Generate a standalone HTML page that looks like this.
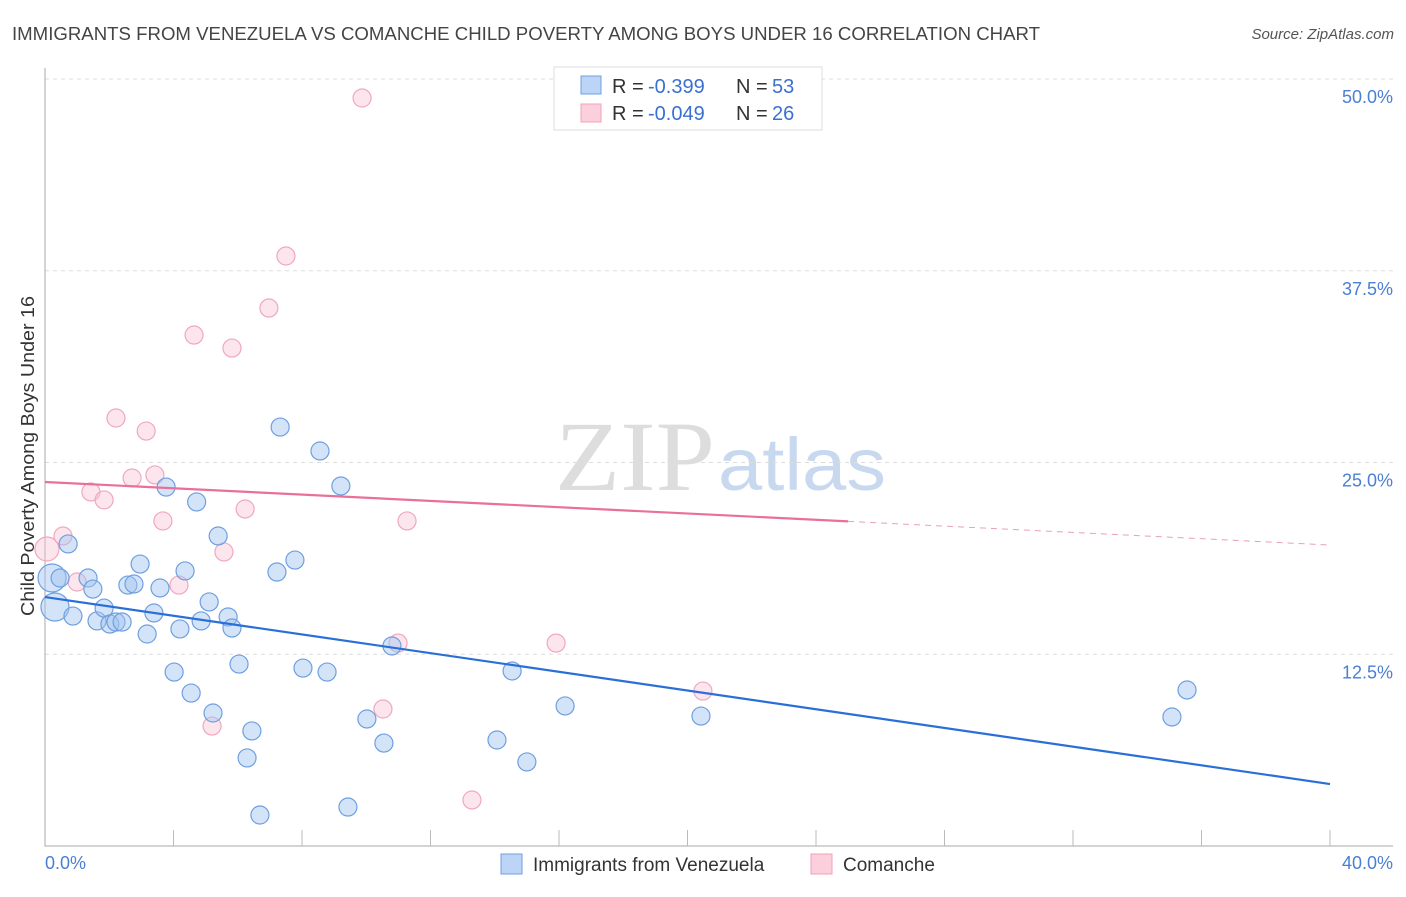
<!DOCTYPE html>
<html><head><meta charset="utf-8"><style>
body{margin:0;background:#fff;font-family:"Liberation Sans",sans-serif}
</style></head><body>
<svg width="1406" height="892" xmlns="http://www.w3.org/2000/svg" font-family="Liberation Sans, sans-serif">
<text x="12" y="40" font-size="18" fill="#444" textLength="1028" lengthAdjust="spacingAndGlyphs">IMMIGRANTS FROM VENEZUELA VS COMANCHE CHILD POVERTY AMONG BOYS UNDER 16 CORRELATION CHART</text>
<text x="1394" y="39" font-size="15" fill="#555" font-style="italic" text-anchor="end">Source: ZipAtlas.com</text>
<text x="555" y="490" font-size="100" fill="#ddd" textLength="160" lengthAdjust="spacingAndGlyphs" font-family="Liberation Serif, serif">ZIP</text>
<text x="718" y="490" font-size="74" fill="#c8d9ef" textLength="168" lengthAdjust="spacingAndGlyphs">atlas</text>
<g id="grid"></g><g id="marks"></g>
<text transform="translate(34,456) rotate(-90)" font-size="18" fill="#333" text-anchor="middle" textLength="320" lengthAdjust="spacingAndGlyphs">Child Poverty Among Boys Under 16</text>
<text x="45" y="869" font-size="18" fill="#4a7fd4">0.0%</text>
<text x="1393" y="869" font-size="18" fill="#4a7fd4" text-anchor="end">40.0%</text>
<g>
<rect x="554" y="67" width="268" height="63" fill="#fff" stroke="#ddd"/>
<rect x="581" y="76" width="20" height="18" fill="#bcd4f5" stroke="#6f9fe0"/>
<rect x="581" y="104" width="20" height="18" fill="#fbd0dc" stroke="#f0a0b8"/>
<text x="612" y="93" font-size="20" fill="#333">R =</text>
<text x="648" y="93" font-size="20" fill="#3a70d0">-0.399</text>
<text x="736" y="93" font-size="20" fill="#333">N =</text>
<text x="772" y="93" font-size="20" fill="#3a70d0">53</text>
<text x="612" y="120" font-size="20" fill="#333">R =</text>
<text x="648" y="120" font-size="20" fill="#3a70d0">-0.049</text>
<text x="736" y="120" font-size="20" fill="#333">N =</text>
<text x="772" y="120" font-size="20" fill="#3a70d0">26</text>
</g>
<g>
<rect x="501" y="854" width="21" height="20" fill="#bcd4f5" stroke="#6f9fe0"/>
<text x="533" y="871" font-size="19" fill="#333">Immigrants from Venezuela</text>
<rect x="811" y="854" width="21" height="20" fill="#fbd0dc" stroke="#f0a0b8"/>
<text x="843" y="871" font-size="19" fill="#333">Comanche</text>
</g>
</svg>
<script>
const blueX=[0.31,0.22,0.47,0.72,0.87,1.34,1.49,1.62,1.84,2.02,2.21,2.40,2.58,2.77,2.96,3.18,3.39,3.58,3.77,4.02,4.20,4.36,4.55,4.72,4.86,5.11,5.23,5.39,5.70,5.82,6.04,6.29,6.44,6.69,7.22,7.32,7.78,8.03,8.56,8.78,9.21,9.43,10.02,10.55,10.80,14.07,14.54,15.00,16.19,20.42,35.08,35.55];
const blueY=[15.58,17.47,17.47,19.69,14.99,17.47,16.75,14.67,15.51,14.47,14.60,14.60,17.01,17.08,18.38,13.82,15.19,16.82,23.40,11.34,14.15,17.93,9.97,22.43,14.67,15.91,8.67,20.21,14.93,14.21,11.86,5.74,7.50,2.02,17.86,27.31,18.64,11.60,25.75,11.34,23.47,2.54,8.28,6.71,13.04,6.91,11.41,5.48,9.13,8.47,8.41,10.17];
const pinkX=[0.06,0.56,1.0,1.43,1.84,2.21,2.71,3.15,3.42,3.67,4.17,4.64,5.20,5.57,5.82,6.23,6.97,7.50,9.87,10.52,10.99,11.27,15.91,13.29,20.48];
const pinkY=[19.36,20.21,17.21,23.08,22.56,27.90,23.99,27.05,24.19,21.19,17.01,33.31,7.82,19.17,32.46,21.97,35.07,38.46,48.76,8.93,13.23,21.19,13.23,3.00,10.10];
const blueTrend=[16.23,4.04];
const pinkTrend=[23.73,19.62];
const yTicks=[12.5,25,37.5,50];
const NS='http://www.w3.org/2000/svg';
const sx=v=>45+v/40*1285, sy=v=>846-v*15.34;
function mk(t,a,p){const e=document.createElementNS(NS,t);for(const k in a)e.setAttribute(k,a[k]);p.appendChild(e);return e;}
const g=document.getElementById('grid'),m=document.getElementById('marks');
yTicks.forEach(t=>{
 const l=mk('line',{x1:45,x2:1393,y1:sy(t),y2:sy(t),stroke:'#ddd','stroke-dasharray':'4,4'},g);
 
 
 const tx=mk('text',{x:1393,y:sy(t)+24,'font-size':18,fill:'#4a7fd4','text-anchor':'end'},g);
 tx.textContent=t.toFixed(1)+'%';
 
 
});
const ax=mk('path',{d:'M45,68V846H1393',stroke:'#aaa',fill:'none'},g);


for(let i=1;i<=10;i++){const t=mk('line',{x1:sx(i*4),x2:sx(i*4),y1:830,y2:846,stroke:'#bbb'},g);
 
 }
pinkX.forEach((x,i)=>{const c=mk('circle',{cx:sx(x),cy:sy(pinkY[i]),r:i==0?12:9,fill:'rgba(248,190,210,0.4)',stroke:'#f0a8be','stroke-width':1.2},m);
 
 });
blueX.forEach((x,i)=>{const c=mk('circle',{cx:sx(x),cy:sy(blueY[i]),r:i<2?14:9,fill:'rgba(160,195,240,0.45)',stroke:'#6f9fe0','stroke-width':1.2},m);
 
 });
const pAt=x=>pinkTrend[0]+(pinkTrend[1]-pinkTrend[0])*x/40;
let l=mk('line',{x1:sx(0),y1:sy(pinkTrend[0]),x2:sx(25),y2:sy(pAt(25)),stroke:'#e8709a','stroke-width':2.2},m);


l=mk('line',{x1:sx(25),y1:sy(pAt(25)),x2:sx(40),y2:sy(pinkTrend[1]),stroke:'#e8a0b8','stroke-width':1,'stroke-dasharray':'6,5'},m);


l=mk('line',{x1:sx(0),y1:sy(blueTrend[0]),x2:sx(40),y2:sy(blueTrend[1]),stroke:'#2a6fd8','stroke-width':2.2},m);


</script>
</body></html>
